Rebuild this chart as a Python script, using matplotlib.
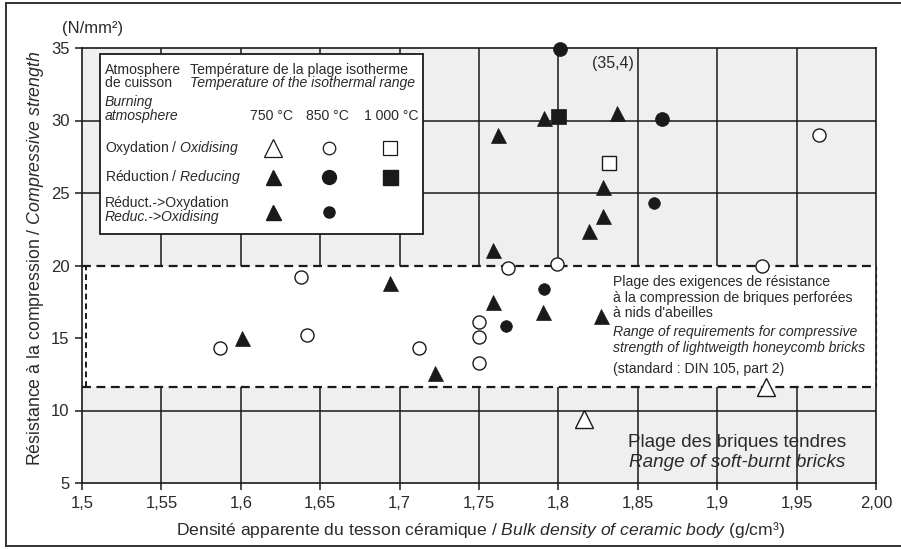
import numpy as np
import matplotlib
matplotlib.use("Agg")
import matplotlib.pyplot as plt
from matplotlib.patches import Rectangle
from matplotlib.lines import Line2D

plt.rcParams["font.family"] = ["Liberation Sans", "DejaVu Sans"]
plt.rcParams["mathtext.fontset"] = "custom"
plt.rcParams["mathtext.rm"] = "Liberation Sans"
plt.rcParams["mathtext.it"] = "Liberation Sans:italic"

# ---- data: bulk density (g/cm3) vs compressive strength (N/mm2) ----
# Oxidising atmosphere
ox_750_x = [1.816, 1.931]
ox_750_y = [9.4, 11.6]
ox_850_x = [1.587, 1.638, 1.642, 1.712, 1.750, 1.750, 1.750, 1.768, 1.799, 1.928, 1.964]
ox_850_y = [14.3, 19.2, 15.2, 14.3, 13.3, 15.1, 16.1, 19.8, 20.1, 20.0, 29.0]
ox_1000_x = [1.832]
ox_1000_y = [27.1]
# Reducing and reducing->oxidising share the same 750 °C symbol
red_750_x = [1.601, 1.694, 1.722, 1.759, 1.759, 1.762, 1.790, 1.791, 1.819, 1.827, 1.828, 1.828, 1.837]
red_750_y = [15.0, 18.8, 12.6, 17.5, 21.1, 29.0, 16.8, 30.2, 22.4, 16.5, 23.4, 25.4, 30.5]
red_850_x = [1.801, 1.865]
red_850_y = [35.4, 30.1]
red_1000_x = [1.800]
red_1000_y = [30.3]
redox_850_x = [1.860, 1.791, 1.767]
redox_850_y = [24.3, 18.35, 15.8]

x_ticks = [1.5, 1.55, 1.6, 1.65, 1.7, 1.75, 1.8, 1.85, 1.9, 1.95, 2.0]
x_tick_labels = ["1,5", "1,55", "1,6", "1,65", "1,7", "1,75", "1,8", "1,85", "1,9", "1,95", "2,00"]
y_ticks = [5, 10, 15, 20, 25, 30, 35]

# requirement band (DIN 105, part 2)
band_low, band_high = 11.6, 20.0

XMIN, XMAX, YMIN, YMAX = 1.5, 2.0, 5, 35

fig = plt.figure(figsize=(9.01, 5.49), dpi=100)
ax = fig.add_axes([82 / 901, 1 - 483 / 549, 794 / 901, 435 / 549])
ax.set_facecolor("#efefef")
ax.set_xlim(XMIN, XMAX)
ax.set_ylim(YMIN, YMAX)

ink = "#1a1a1a"
txt = "#2a2a2a"

# grid
for gx in x_ticks[1:-1]:
    ax.axvline(gx, color=ink, lw=1.1, zorder=0.5)
for gy in y_ticks[1:-1]:
    if gy != band_high:
        ax.axhline(gy, color=ink, lw=1.1, zorder=0.5)

for s in ax.spines.values():
    s.set_color(ink)
    s.set_linewidth(1.2)

ax.set_xticks(x_ticks)
ax.set_xticklabels(x_tick_labels)
ax.set_yticks(y_ticks)
ax.tick_params(direction="out", length=5, width=1.1, colors=ink, labelsize=12,
               labelcolor=txt, pad=4)

# requirement band
ax.add_patch(Rectangle((XMIN, band_low), XMAX - XMIN, band_high - band_low,
                       facecolor="white", edgecolor="none", zorder=1))
ax.plot([XMIN, XMAX], [band_high, band_high], color=ink, lw=1.6,
        ls=(0, (4, 2.5)), zorder=2, clip_on=False)
ax.plot([XMIN, XMAX], [band_low, band_low], color=ink, lw=1.6,
        ls=(0, (4, 2.5)), zorder=2, clip_on=False)
ax.plot([1.5025, 1.5025], [band_low, band_high], color=ink, lw=1.4,
        ls=(0, (3, 2)), zorder=2)
ax.plot([XMAX, XMAX], [band_low, band_high], color="white", lw=1.6, zorder=2, clip_on=False)
ax.plot([XMAX, XMAX], [band_low, band_high], color=ink, lw=0.8,
        ls=(0, (4, 3)), zorder=2.1, clip_on=False)

band_lines = [
    ("Plage des exigences de résistance", "normal", 18.83),
    ("à la compression de briques perforées", "normal", 17.79),
    ("à nids d'abeilles", "normal", 16.75),
    ("Range of requirements for compressive", "italic", 15.44),
    ("strength of lightweigth honeycomb bricks", "italic", 14.34),
    ("(standard : DIN 105, part 2)", "normal", 12.89),
]
for s, st, yy in band_lines:
    ax.text(1.8344, yy, s, fontsize=10.1, style=st, color=txt, va="center",
            ha="left", zorder=4)

ax.text(1.8438, 7.77, "Plage des briques tendres", fontsize=13.6, color=txt,
        va="center", ha="left", zorder=4)
ax.text(1.8445, 6.39, "Range of soft-burnt bricks", fontsize=13.6, style="italic",
        color=txt, va="center", ha="left", zorder=4)

# data marks
ms_kw = dict(ls="none", zorder=5, clip_on=False)
ax.plot(ox_750_x, ox_750_y, marker="^", ms=13.5, mfc="white", mec=ink, mew=1.0, **ms_kw)
ax.plot(ox_850_x, ox_850_y, marker="o", ms=9.4, mfc="white", mec=ink, mew=1.0, **ms_kw)
ax.plot(ox_1000_x, ox_1000_y, marker="s", ms=9.4, mfc="white", mec=ink, mew=1.0, **ms_kw)
ax.plot(red_750_x, red_750_y, marker="^", ms=10.8, mfc=ink, mec=ink, mew=0.5, **ms_kw)
ax.plot(red_850_x, np.minimum(red_850_y, YMAX - 0.1), marker="o", ms=10.0,
        mfc=ink, mec=ink, mew=0.5, **ms_kw)
ax.plot(red_1000_x, red_1000_y, marker="s", ms=10.8, mfc=ink, mec=ink, mew=0.5, **ms_kw)
ax.plot(redox_850_x, redox_850_y, marker="o", ms=8.4, mfc=ink, mec=ink, mew=0.5, **ms_kw)

# off-scale value label
ax.text(1.8212, 33.96, "({:.1f})".format(red_850_y[0]).replace(".", ","),
        fontsize=11.5, color=txt, va="center", ha="left", zorder=4)

# legend panel
lx0, lx1, ly0, ly1 = 1.5113, 1.7147, 22.19, 34.58
ax.add_patch(Rectangle((lx0, ly0), lx1 - lx0, ly1 - ly0, facecolor="white",
                       edgecolor=ink, lw=1.3, zorder=3))
lf = 10.1
ax.text(1.5145, 33.48, "Atmosphere", fontsize=lf, color=txt, va="center", zorder=4)
ax.text(1.5145, 32.58, "de cuisson", fontsize=lf, color=txt, va="center", zorder=4)
ax.text(1.5145, 31.27, "Burning", fontsize=lf, style="italic", color=txt, va="center", zorder=4)
ax.text(1.5145, 30.30, "atmosphere", fontsize=lf, style="italic", color=txt, va="center", zorder=4)
ax.text(1.568, 33.48, "Température de la plage isotherme", fontsize=lf, color=txt,
        va="center", zorder=4)
ax.text(1.568, 32.58, "Temperature of the isothermal range", fontsize=lf,
        style="italic", color=txt, va="center", zorder=4)
for cx, lab in [(1.6196, "750 °C"), (1.6543, "850 °C"), (1.6946, "1 000 °C")]:
    ax.text(cx, 30.30, lab, fontsize=lf, color=txt, va="center", ha="center", zorder=4)
ax.text(1.5145, 28.09, r"Oxydation / $\mathit{Oxidising}$", fontsize=lf, color=txt,
        va="center", zorder=4)
ax.text(1.5145, 26.08, r"Réduction / $\mathit{Reducing}$", fontsize=lf, color=txt,
        va="center", zorder=4)
ax.text(1.5145, 24.29, "Réduct.->Oxydation", fontsize=lf, color=txt, va="center", zorder=4)
ax.text(1.5145, 23.32, "Reduc.->Oxidising", fontsize=lf, style="italic", color=txt,
        va="center", zorder=4)

leg_kw = dict(ls="none", zorder=4)
ax.plot([1.6203], [28.09], marker="^", ms=12.5, mfc="white", mec=ink, mew=0.9, **leg_kw)
ax.plot([1.6555], [28.09], marker="o", ms=9.0, mfc="white", mec=ink, mew=0.9, **leg_kw)
ax.plot([1.6940], [28.09], marker="s", ms=9.4, mfc="white", mec=ink, mew=0.9, **leg_kw)
ax.plot([1.6203], [26.08], marker="^", ms=10.8, mfc=ink, mec=ink, **leg_kw)
ax.plot([1.6555], [26.08], marker="o", ms=10.0, mfc=ink, mec=ink, **leg_kw)
ax.plot([1.6940], [26.08], marker="s", ms=10.8, mfc=ink, mec=ink, **leg_kw)
ax.plot([1.6203], [23.67], marker="^", ms=10.8, mfc=ink, mec=ink, **leg_kw)
ax.plot([1.6555], [23.67], marker="o", ms=8.0, mfc=ink, mec=ink, **leg_kw)

# axis titles
fig.text(36 / 901, 1 - 258 / 549,
         r"Résistance à la compression / $\mathit{Compressive\ strength}$",
         rotation=90, fontsize=12.8, color=txt, ha="center", va="center")
fig.text(93 / 901, 1 - 28 / 549, "(N/mm²)", fontsize=12, color=txt,
         ha="center", va="center")
fig.text(480 / 901, 1 - 530 / 549,
         r"Densité apparente du tesson céramique / $\mathit{Bulk\ density\ of\ ceramic\ body}$ (g/cm³)",
         fontsize=12.6, color=txt, ha="center", va="center")

# outer frame
for xs, ys in [((6 / 901, 6 / 901), (1 - 3 / 549, 1 - 546 / 549)),
               ((6 / 901, 1.0), (1 - 3 / 549, 1 - 3 / 549)),
               ((6 / 901, 1.0), (1 - 546 / 549, 1 - 546 / 549))]:
    fig.add_artist(Line2D(xs, ys, color="#333333", lw=1.4, transform=fig.transFigure))

fig.savefig("out.png", dpi=100, facecolor="white")
